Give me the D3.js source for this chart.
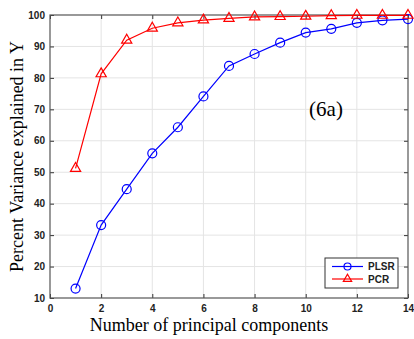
<!DOCTYPE html>
<html>
<head>
<meta charset="utf-8">
<script src="https://cdn.jsdelivr.net/npm/d3@7"></script>
<style>
  body { margin: 0; background: #fff; }
  .tick text { font-family: "Liberation Sans", Arial, sans-serif; font-size: 10px; font-weight: bold; fill: #222; }
</style>
</head>
<body>
<div id="chart"></div>
<script>
// number of components
const comps = [1, 2, 3, 4, 5, 6, 7, 8, 9, 10, 11, 12, 13, 14];
// percent variance explained in Y
const plsr = [13, 33.2, 44.6, 56, 64.3, 74.1, 83.8, 87.6, 91.2, 94.4, 95.6, 97.5, 98.3, 98.7];
const pcr = [51.2, 81.3, 92, 95.8, 97.5, 98.4, 98.9, 99.4, 99.5, 99.6, 99.8, 99.9, 99.9, 99.9];
const xTicks = [0, 2, 4, 6, 8, 10, 12, 14];
const yTicks = [10, 20, 30, 40, 50, 60, 70, 80, 90, 100];

const width = 414, height = 339;
const margin = { top: 15, right: 6, bottom: 41, left: 50 };
const w = width - margin.left - margin.right;
const h = height - margin.top - margin.bottom;

const svg = d3.select('#chart')
    .append('svg')
    .attr('width', width)
    .attr('height', height);

const g = svg.append('g').attr('transform', `translate(${margin.left},${margin.top})`);

const x = d3.scaleLinear().domain([0, 14]).range([0, w]);
const y = d3.scaleLinear().domain([10, 100]).range([h, 0]);

// grid
g.append('g')
    .selectAll('line')
    .data(xTicks.slice(1, -1))
    .enter().append('line')
    .attr('x1', d => x(d)).attr('x2', d => x(d))
    .attr('y1', 0).attr('y2', h)
    .attr('stroke', '#e4e4e4').attr('stroke-width', 1);
g.append('g')
    .selectAll('line')
    .data(yTicks.slice(1, -1))
    .enter().append('line')
    .attr('x1', 0).attr('x2', w)
    .attr('y1', d => y(d)).attr('y2', d => y(d))
    .attr('stroke', '#e4e4e4').attr('stroke-width', 1);

// axes
const xAxis = g.append('g')
    .attr('transform', `translate(0,${h})`)
    .call(d3.axisBottom(x).tickValues(xTicks).tickSizeInner(-4).tickSizeOuter(0).tickPadding(7));
const yAxis = g.append('g')
    .call(d3.axisLeft(y).tickValues(yTicks).tickSizeInner(-4).tickSizeOuter(0).tickPadding(5));
g.append('g')
    .call(d3.axisTop(x).tickValues(xTicks).tickSizeInner(-4).tickSizeOuter(0).tickFormat(''));
g.append('g')
    .attr('transform', `translate(${w},0)`)
    .call(d3.axisRight(y).tickValues(yTicks).tickSizeInner(-4).tickSizeOuter(0).tickFormat(''));
g.selectAll('.domain').remove();
g.selectAll('.tick line').attr('stroke', '#333');

// frame
g.append('rect')
    .attr('width', w).attr('height', h)
    .attr('fill', 'none')
    .attr('stroke', '#555')
    .attr('stroke-width', 1.2);

const line = d3.line()
    .x((d, i) => x(comps[i]))
    .y(d => y(d));

// PLSR
g.append('path')
    .datum(plsr)
    .attr('d', line)
    .attr('fill', 'none')
    .attr('stroke', '#0000ff')
    .attr('stroke-width', 1.2);
g.append('g')
    .selectAll('circle')
    .data(plsr)
    .enter().append('circle')
    .attr('cx', (d, i) => x(comps[i]))
    .attr('cy', d => y(d))
    .attr('r', 4.5)
    .attr('fill', 'none')
    .attr('stroke', '#0000ff')
    .attr('stroke-width', 1.2);

// PCR
const tri = d3.symbol().type(d3.symbolTriangle).size(45);
g.append('path')
    .datum(pcr)
    .attr('d', line)
    .attr('fill', 'none')
    .attr('stroke', '#ff0000')
    .attr('stroke-width', 1.2);
g.append('g')
    .selectAll('path')
    .data(pcr)
    .enter().append('path')
    .attr('d', tri)
    .attr('transform', (d, i) => `translate(${x(comps[i])},${y(d)})`)
    .attr('fill', 'none')
    .attr('stroke', '#ff0000')
    .attr('stroke-width', 1.2);

// annotation
g.append('text')
    .attr('x', 276)
    .attr('y', 101)
    .attr('text-anchor', 'middle')
    .style('font-family', '"Liberation Serif", "Times New Roman", serif')
    .style('font-size', '21px')
    .text('(6a)');

// legend
const legend = g.append('g').attr('transform', 'translate(275,243)');
legend.append('rect')
    .attr('width', 73).attr('height', 30)
    .attr('fill', '#fff')
    .attr('stroke', '#333')
    .attr('stroke-width', 1);
const items = [
    { name: 'PLSR', color: '#0000ff', shape: 'circle' },
    { name: 'PCR', color: '#ff0000', shape: 'triangle' }
];
items.forEach((it, i) => {
    const yy = 8.5 + i * 12.5;
    legend.append('line')
        .attr('x1', 7).attr('x2', 38)
        .attr('y1', yy).attr('y2', yy)
        .attr('stroke', it.color).attr('stroke-width', 1.2);
    if (it.shape === 'circle') {
        legend.append('circle')
            .attr('cx', 22.5).attr('cy', yy).attr('r', 3.5)
            .attr('fill', 'none').attr('stroke', it.color).attr('stroke-width', 1.2);
    } else {
        legend.append('path')
            .attr('d', d3.symbol().type(d3.symbolTriangle).size(30))
            .attr('transform', `translate(22.5,${yy})`)
            .attr('fill', 'none').attr('stroke', it.color).attr('stroke-width', 1.2);
    }
    legend.append('text')
        .attr('x', 43).attr('y', yy + 3.5)
        .style('font-family', '"Liberation Sans", Arial, sans-serif')
        .style('font-size', '10px')
        .style('font-weight', 'bold')
        .style('fill', '#222')
        .text(it.name);
});

// axis labels
svg.append('text')
    .attr('x', margin.left + w / 2 - 20)
    .attr('y', 331)
    .attr('text-anchor', 'middle')
    .style('font-family', '"Liberation Serif", "Times New Roman", serif')
    .style('font-size', '18px')
    .text('Number of principal components');
svg.append('text')
    .attr('transform', `translate(23,${margin.top + h / 2}) rotate(-90)`)
    .attr('text-anchor', 'middle')
    .style('font-family', '"Liberation Serif", "Times New Roman", serif')
    .style('font-size', '18px')
    .text('Percent Variance explained in Y');
</script>
</body>
</html>
